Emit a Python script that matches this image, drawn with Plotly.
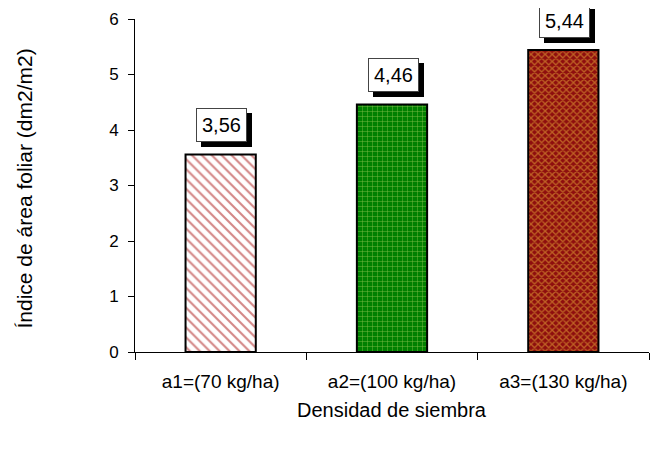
import plotly.graph_objects as go

categories = ["a1=(70 kg/ha)", "a2=(100 kg/ha)", "a3=(130 kg/ha)"]
values = [3.56, 4.46, 5.44]
labels = ["3,56", "4,46", "5,44"]
y_ticks = [0, 1, 2, 3, 4, 5, 6]

bar_colors = ["#FFFFFF", "#008000", "#8E0E0E"]
pattern_shapes = ["\\", "+", "x"]
pattern_fg = ["#A81010", "#F4F48A", "#EDB53A"]
pattern_size = [7, 5, 5]
pattern_sol = [0.3, 0.18, 0.45]

FONT = "Liberation Sans, Arial, sans-serif"

fig = go.Figure()
for i, cat in enumerate(categories):
    fig.add_trace(go.Bar(
        x=[cat], y=[values[i]], width=0.41,
        marker=dict(
            color=bar_colors[i],
            line=dict(color="black", width=2),
            pattern=dict(shape=pattern_shapes[i], fgcolor=pattern_fg[i],
                         size=pattern_size[i], solidity=pattern_sol[i], fillmode="overlay"),
        ),
        hoverinfo="skip",
    ))

for cat, val, lab in zip(categories, values, labels):
    # shadow
    fig.add_annotation(x=cat, y=val, text=lab, showarrow=False, yanchor="bottom",
                       xshift=6, yshift=7, bgcolor="black", bordercolor="black",
                       borderwidth=1, borderpad=5, font=dict(family=FONT, size=20, color="black"))
    fig.add_annotation(x=cat, y=val, text=lab, showarrow=False, yanchor="bottom",
                       xshift=1, yshift=12, bgcolor="white", bordercolor="#444444",
                       borderwidth=1, borderpad=5, font=dict(family=FONT, size=20, color="black"))

# axis titles
fig.add_annotation(text="Índice de área foliar (dm2/m2)", xref="paper", yref="paper",
                   x=0, y=0.5, xshift=-111, yshift=-3, textangle=-90, showarrow=False,
                   xanchor="center", yanchor="middle", font=dict(family=FONT, size=21))
fig.add_annotation(text="Densidad de siembra", xref="paper", yref="paper",
                   x=0.5, y=0, yshift=-58, showarrow=False,
                   xanchor="center", yanchor="middle", font=dict(family=FONT, size=20))

# the page body adds an 8px offset, so the figure is 8px smaller
fig.update_layout(
    width=657, height=445,
    margin=dict(l=127, r=16, t=11, b=101),
    plot_bgcolor="white", paper_bgcolor="white",
    font=dict(family=FONT, size=17, color="black"),
    showlegend=False,
    barmode="overlay",
)
fig.update_yaxes(range=[0, 6], tickvals=y_ticks, showline=True, linecolor="black", linewidth=1,
                 ticks="outside", ticklen=6, tickcolor="black", showgrid=False, zeroline=False,
                 ticklabelstandoff=6, tickfont=dict(size=17), automargin=False)
fig.update_xaxes(showline=True, linecolor="black", linewidth=1, ticks="outside", ticklen=7,
                 tickcolor="black", tickson="boundaries", ticklabelstandoff=12,
                 tickfont=dict(size=19), automargin=False,
                 categoryorder="array", categoryarray=categories)

fig.write_html("out.html")
